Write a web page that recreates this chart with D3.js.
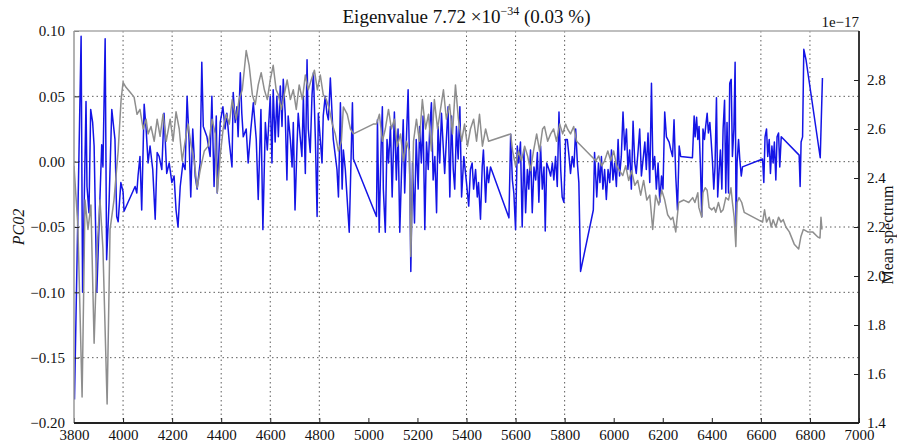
<!DOCTYPE html>
<html>
<head>
<meta charset="utf-8">
<script src="https://cdn.jsdelivr.net/npm/d3@7"></script>
<style>
  body { margin: 0; background: #fff; }
  svg { display: block; }
  svg text { font-family: "Liberation Serif", "Times New Roman", "DejaVu Serif", serif; }
</style>
</head>
<body>
<svg id="chart" width="897" height="446"></svg>
<script>
// PC02 loading, [wavenumber, value]
var pc02 = [
  [3802,-0.182],[3829,0.096],[3835,-0.100],[3849,0.046],[3853,-0.019],[3861,-0.039],[3868,0.040],[3876,0.030],
  [3882,0.012],[3893,-0.100],[3913,0.013],[3918,-0.004],[3927,0.094],[3933,-0.075],[3943,-0.031],[3954,0.040],
  [3967,0.017],[3974,-0.042],[3980,-0.046],[3991,-0.016],[4000,-0.023],[4004,-0.038],[4049,-0.019],[4056,-0.024],
  [4061,-0.011],[4069,0.004],[4076,-0.037],[4086,0.044],[4094,0.025],[4102,-0.001],[4110,0.012],[4121,-0.006],
  [4131,-0.044],[4139,0.007],[4147,0.004],[4158,-0.006],[4167,0.037],[4178,-0.009],[4188,-0.001],[4199,-0.016],
  [4208,-0.011],[4216,-0.037],[4224,-0.050],[4233,-0.019],[4244,-0.001],[4253,-0.006],[4261,0.050],[4269,0.017],
  [4276,-0.027],[4284,0.025],[4294,-0.011],[4302,-0.021],[4314,-0.001],[4321,0.076],[4327,0.027],[4342,0.019],
  [4355,0.004],[4362,0.050],[4371,-0.019],[4380,0.035],[4384,-0.024],[4396,0.030],[4407,0.042],[4416,0.025],
  [4423,0.037],[4433,0.015],[4444,-0.004],[4449,0.053],[4457,0.030],[4464,0.042],[4469,0.019],[4478,0.068],
  [4484,0.037],[4490,0.019],[4502,0.025],[4510,-0.001],[4521,0.025],[4531,0.045],[4543,0.017],[4551,-0.029],
  [4562,0.040],[4570,-0.052],[4580,0.030],[4588,0.009],[4600,0.050],[4607,-0.001],[4612,0.055],[4620,0.015],
  [4627,0.050],[4633,0.019],[4641,0.058],[4648,0.027],[4653,0.063],[4661,0.037],[4668,-0.014],[4673,0.035],
  [4682,0.017],[4689,-0.004],[4694,0.030],[4701,-0.037],[4709,0.012],[4714,0.037],[4722,0.019],[4729,0.004],
  [4735,0.050],[4743,-0.009],[4750,0.078],[4755,0.025],[4763,0.007],[4770,0.050],[4776,0.068],[4784,0.017],
  [4791,-0.042],[4796,0.037],[4804,0.017],[4811,-0.001],[4816,0.035],[4824,0.050],[4831,0.037],[4837,0.032],
  [4845,0.064],[4857,0.017],[4872,-0.006],[4878,-0.027],[4886,0.045],[4893,-0.021],[4898,0.009],[4906,-0.006],
  [4913,-0.027],[4918,-0.042],[4922,-0.054],[4929,-0.001],[4935,0.045],[4939,0.002],[5033,-0.042],[5037,0.032],
  [5044,-0.054],[5052,0.012],[5057,0.042],[5061,-0.021],[5069,-0.054],[5076,0.017],[5082,-0.001],[5090,0.027],
  [5097,-0.027],[5106,0.038],[5114,-0.014],[5121,0.025],[5128,-0.054],[5135,-0.009],[5142,0.032],[5148,-0.024],
  [5155,0.017],[5162,0.055],[5169,-0.014],[5173,-0.084],[5180,-0.001],[5188,-0.047],[5195,0.017],[5203,-0.021],
  [5209,0.027],[5216,-0.001],[5223,0.035],[5230,-0.052],[5237,0.015],[5244,-0.006],[5250,0.025],[5257,0.045],
  [5264,-0.014],[5271,0.004],[5278,-0.039],[5284,0.027],[5291,-0.001],[5298,0.037],[5305,0.012],[5311,-0.009],
  [5318,0.017],[5325,0.042],[5332,-0.027],[5339,0.035],[5346,-0.006],[5352,-0.021],[5359,0.027],[5366,0.002],
  [5373,0.042],[5380,-0.027],[5389,0.004],[5400,-0.016],[5409,-0.034],[5416,-0.006],[5423,-0.001],[5429,-0.021],
  [5437,-0.006],[5444,-0.027],[5449,-0.016],[5457,-0.044],[5464,-0.004],[5469,0.009],[5478,-0.031],[5484,-0.004],
  [5490,-0.016],[5498,-0.004],[5573,-0.043],[5580,0.021],[5587,-0.014],[5593,-0.024],[5600,-0.052],[5607,0.012],
  [5613,-0.001],[5620,0.015],[5627,-0.050],[5634,0.009],[5641,-0.039],[5648,-0.006],[5654,-0.021],[5661,0.009],
  [5668,-0.039],[5675,-0.004],[5682,-0.014],[5689,0.007],[5695,-0.031],[5702,0.012],[5709,-0.021],[5716,-0.004],
  [5721,-0.053],[5727,-0.001],[5736,-0.006],[5743,-0.011],[5750,-0.001],[5756,-0.014],[5763,0.004],[5770,-0.019],
  [5777,0.038],[5784,-0.006],[5790,-0.027],[5797,-0.031],[5804,0.017],[5811,0.017],[5818,0.004],[5824,-0.009],
  [5831,0.004],[5838,-0.004],[5845,0.025],[5852,-0.001],[5858,-0.016],[5865,-0.084],[5917,-0.037],[5922,0.007],
  [5931,-0.027],[5938,-0.001],[5944,-0.016],[5950,0.004],[5956,-0.021],[5963,-0.006],[5970,-0.029],[5977,-0.006],
  [5984,-0.016],[5991,0.009],[5997,-0.014],[6004,-0.001],[6011,-0.019],[6018,0.017],[6024,-0.011],[6031,0.004],
  [6038,0.038],[6045,0.009],[6052,0.025],[6058,-0.006],[6065,0.009],[6072,-0.021],[6079,0.031],[6086,-0.001],
  [6092,-0.009],[6099,0.007],[6106,0.025],[6113,-0.011],[6120,0.002],[6127,0.015],[6133,-0.006],[6140,0.022],
  [6147,-0.016],[6154,0.060],[6160,-0.006],[6167,0.004],[6174,-0.021],[6181,-0.001],[6188,-0.031],[6195,-0.011],
  [6201,-0.021],[6208,0.038],[6215,0.019],[6226,0.015],[6233,0.009],[6240,0.004],[6246,0.032],[6253,-0.011],
  [6260,-0.037],[6267,0.012],[6273,0.004],[6321,0.003],[6328,0.035],[6332,0.019],[6338,0.034],[6343,0.017],
  [6348,0.027],[6354,-0.006],[6359,-0.042],[6364,0.025],[6370,0.017],[6375,0.027],[6381,0.037],[6386,0.022],
  [6392,0.030],[6397,0.017],[6403,-0.001],[6408,-0.021],[6413,-0.004],[6419,0.049],[6424,-0.027],[6430,-0.006],
  [6435,0.009],[6441,-0.021],[6446,0.025],[6452,0.047],[6457,-0.024],[6462,0.030],[6468,-0.024],[6473,0.060],
  [6479,0.063],[6484,0.004],[6490,0.025],[6495,0.076],[6499,-0.050],[6503,-0.001],[6509,0.017],[6514,0.002],
  [6520,-0.011],[6525,-0.004],[6607,0.002],[6612,-0.016],[6617,0.019],[6623,0.025],[6628,0.004],[6634,0.017],
  [6639,-0.009],[6645,0.012],[6650,-0.001],[6655,0.015],[6661,-0.014],[6666,0.019],[6672,0.022],[6677,-0.004],
  [6683,0.019],[6756,0.005],[6760,-0.019],[6764,0.015],[6770,0.019],[6775,0.086],[6784,0.078],[6842,0.003],
  [6851,0.064]
];

// mean spectrum, [wavenumber, value / 1e-17]
var meanSpec = [
  [3800,2.45],[3816,2.20],[3833,1.506],[3845,2.31],[3857,2.19],[3869,2.29],[3882,1.726],[3894,2.11],
  [3906,2.31],[3918,2.11],[3935,1.478],[3947,2.19],[3963,2.31],[3980,2.51],[3992,2.72],[4000,2.79],
  [4012,2.77],[4029,2.75],[4045,2.73],[4057,2.66],[4069,2.68],[4082,2.60],[4094,2.64],[4102,2.58],
  [4114,2.61],[4127,2.55],[4139,2.64],[4151,2.57],[4163,2.66],[4176,2.55],[4192,2.64],[4204,2.55],
  [4216,2.67],[4229,2.60],[4241,2.47],[4253,2.55],[4265,2.62],[4278,2.53],[4290,2.47],[4302,2.36],
  [4314,2.43],[4331,2.51],[4347,2.53],[4363,2.64],[4376,2.58],[4384,2.34],[4396,2.49],[4408,2.60],
  [4420,2.66],[4433,2.62],[4445,2.72],[4461,2.64],[4473,2.72],[4486,2.76],[4494,2.84],[4502,2.92],
  [4514,2.86],[4527,2.74],[4539,2.70],[4551,2.78],[4563,2.83],[4576,2.76],[4588,2.72],[4600,2.80],
  [4612,2.86],[4624,2.76],[4633,2.74],[4645,2.68],[4657,2.74],[4669,2.80],[4682,2.72],[4694,2.76],
  [4706,2.68],[4718,2.78],[4731,2.72],[4743,2.82],[4755,2.76],[4767,2.80],[4780,2.84],[4792,2.76],
  [4804,2.82],[4816,2.74],[4829,2.72],[4841,2.68],[4853,2.62],[4865,2.58],[4878,2.51],[4890,2.55],
  [4898,2.69],[4914,2.66],[4927,2.60],[4939,2.58],[5020,2.62],[5033,2.62],[5045,2.66],[5057,2.55],
  [5069,2.60],[5082,2.68],[5094,2.60],[5106,2.64],[5118,2.53],[5131,2.58],[5143,2.47],[5155,2.55],
  [5167,2.51],[5173,2.08],[5184,2.55],[5196,2.64],[5208,2.55],[5220,2.72],[5233,2.60],[5245,2.66],
  [5257,2.51],[5269,2.72],[5282,2.60],[5294,2.68],[5306,2.76],[5318,2.64],[5331,2.70],[5343,2.58],
  [5355,2.78],[5367,2.64],[5380,2.55],[5392,2.62],[5404,2.53],[5416,2.60],[5429,2.64],[5441,2.55],
  [5453,2.66],[5465,2.53],[5478,2.60],[5490,2.55],[5580,2.58],[5588,2.51],[5600,2.45],[5612,2.51],
  [5624,2.47],[5637,2.53],[5649,2.49],[5661,2.43],[5673,2.51],[5686,2.58],[5698,2.51],[5710,2.60],
  [5718,2.61],[5731,2.55],[5743,2.58],[5755,2.60],[5767,2.55],[5780,2.62],[5792,2.58],[5804,2.62],
  [5812,2.60],[5824,2.58],[5837,2.61],[5849,2.55],[5927,2.47],[5939,2.49],[5951,2.45],[5963,2.47],
  [5976,2.51],[5988,2.47],[6000,2.51],[6012,2.45],[6024,2.43],[6037,2.41],[6049,2.45],[6061,2.39],
  [6073,2.43],[6086,2.37],[6098,2.39],[6110,2.33],[6122,2.39],[6135,2.31],[6147,2.33],[6159,2.19],
  [6171,2.33],[6184,2.29],[6196,2.35],[6208,2.31],[6220,2.25],[6233,2.23],[6241,2.24],[6253,2.18],
  [6265,2.30],[6286,2.31],[6306,2.30],[6322,2.32],[6331,2.30],[6343,2.34],[6347,2.28],[6359,2.24],
  [6364,2.34],[6373,2.36],[6381,2.35],[6389,2.28],[6400,2.27],[6409,2.28],[6416,2.26],[6427,2.30],
  [6437,2.26],[6446,2.27],[6457,2.32],[6468,2.31],[6478,2.36],[6484,2.30],[6491,2.24],[6498,2.12],
  [6503,2.30],[6511,2.32],[6522,2.30],[6532,2.26],[6607,2.22],[6615,2.27],[6623,2.22],[6634,2.24],
  [6642,2.20],[6650,2.23],[6661,2.20],[6672,2.24],[6682,2.22],[6691,2.23],[6702,2.20],[6716,2.18],
  [6736,2.13],[6754,2.11],[6763,2.16],[6773,2.19],[6791,2.18],[6811,2.18],[6831,2.16],[6841,2.155],
  [6845,2.24],[6849,2.19]
];

var xTicks = [3800,4000,4200,4400,4600,4800,5000,5200,5400,5600,5800,6000,6200,6400,6600,6800,7000];
var gridX = [4000,4200,4400,4600,4800,5400,5600,5800,6600,6800];
var leftTicks = [-0.20,-0.15,-0.10,-0.05,0.00,0.05,0.10];
var gridY = [-0.15,-0.10,-0.05,0.00,0.05];
var rightTicks = [1.4,1.6,1.8,2.0,2.2,2.4,2.6,2.8];

var L = 74, R = 859, T = 31, B = 423;
var serif = "'Liberation Serif', 'Times New Roman', 'DejaVu Serif', serif";
var svg = d3.select("#chart");

var x = d3.scaleLinear().domain([3800,7000]).range([L,R]);
var yL = d3.scaleLinear().domain([-0.2,0.1]).range([B,T]);
var yR = d3.scaleLinear().domain([1.4,3.0]).range([B,T]);

svg.append("defs").append("clipPath").attr("id","plotclip")
  .append("rect").attr("x",L).attr("y",T).attr("width",R-L).attr("height",B-T);

// grid
var grid = svg.append("g").attr("stroke","#333").attr("stroke-width",0.8).attr("stroke-dasharray","1.5,3");
grid.selectAll(".gx").data(gridX).enter().append("line")
  .attr("x1",d => x(d)).attr("x2",d => x(d)).attr("y1",T).attr("y2",B);
grid.selectAll(".gy").data(gridY).enter().append("line")
  .attr("y1",d => yL(d)).attr("y2",d => yL(d)).attr("x1",L).attr("x2",R);

var plot = svg.append("g").attr("clip-path","url(#plotclip)");

plot.append("path").datum(pc02)
  .attr("fill","none").attr("stroke","#1414e6").attr("stroke-width",1.5).attr("stroke-linejoin","round")
  .attr("d", d3.line().x(d => x(d[0])).y(d => yL(d[1])));

plot.append("path").datum(meanSpec)
  .attr("fill","none").attr("stroke","#8e8e8e").attr("stroke-width",1.5).attr("stroke-linejoin","round")
  .attr("d", d3.line().x(d => x(d[0])).y(d => yR(d[1])));

// axes: inward ticks
var xAxis = svg.append("g").attr("transform","translate(0," + B + ")")
  .call(d3.axisBottom(x).tickValues(xTicks).tickSizeInner(-5).tickSizeOuter(0).tickPadding(9).tickFormat(d3.format("d")));
var lAxis = svg.append("g").attr("transform","translate(" + L + ",0)")
  .call(d3.axisLeft(yL).tickValues(leftTicks).tickSizeInner(-5).tickSizeOuter(0).tickPadding(9).tickFormat(d3.format(".2f")));
var rAxis = svg.append("g").attr("transform","translate(" + R + ",0)")
  .call(d3.axisRight(yR).tickValues(rightTicks).tickSizeInner(-5).tickSizeOuter(0).tickPadding(8).tickFormat(d3.format(".1f")));

[xAxis, lAxis, rAxis].forEach(function(a){
  a.attr("font-family", serif);
  a.select(".domain").remove();
  a.selectAll("text").style("font-family", serif).attr("font-size",15).attr("fill","#111");
  a.selectAll("line").attr("stroke","#222");
});
xAxis.selectAll("text").attr("dy","0.55em");

// frame
svg.append("line").attr("x1",L).attr("x2",R).attr("y1",T).attr("y2",T).attr("stroke","#aaa").attr("stroke-width",1.5);
svg.append("line").attr("x1",L).attr("x2",L).attr("y1",T).attr("y2",B).attr("stroke","#999").attr("stroke-width",1.5);
svg.append("line").attr("x1",L).attr("x2",R).attr("y1",B).attr("y2",B).attr("stroke","#222").attr("stroke-width",1.8);
svg.append("line").attr("x1",R).attr("x2",R).attr("y1",T).attr("y2",B).attr("stroke","#222").attr("stroke-width",1.8);

// title
var title = svg.append("text").attr("x",(L+R)/2).attr("y",23).attr("text-anchor","middle")
  .attr("font-size",19).attr("fill","#111");
title.append("tspan").text("Eigenvalue 7.72 \u00d710");
title.append("tspan").attr("font-size",12).attr("dy",-8).text("\u221234");
title.append("tspan").attr("dy",8).text(" (0.03 %)");

// offset label
svg.append("text").attr("x",R).attr("y",27).attr("text-anchor","end")
  .attr("font-size",15).attr("fill","#111").text("1e\u221217");

// axis labels
svg.append("text").attr("transform","translate(24," + (T+B)/2 + ") rotate(-90)")
  .attr("text-anchor","middle").attr("font-size",16).attr("font-style","italic").attr("fill","#111").text("PC02");
svg.append("text").attr("transform","translate(893," + ((T+B)/2 + 8) + ") rotate(-90)")
  .attr("text-anchor","middle").attr("font-size",16).attr("fill","#111").text("Mean spectrum");
</script>
</body>
</html>
